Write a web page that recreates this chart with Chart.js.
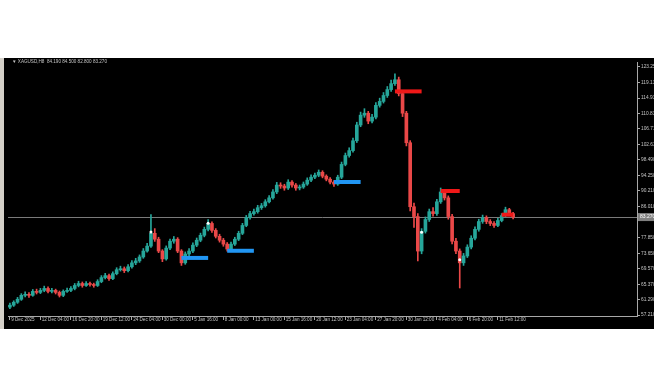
<!DOCTYPE html>
<html>
<head>
<meta charset="utf-8">
<script src="https://cdn.jsdelivr.net/npm/chart.js@4.4.1/dist/chart.umd.min.js"></script>
<style>
  html, body { margin: 0; padding: 0; background: #fff; }
  body { width: 654px; height: 366px; position: relative; overflow: hidden; }
  #strip { position: absolute; left: 0; top: 58px; width: 4px; height: 271px; background: #d4d0c8; }
  #frame { position: absolute; left: 4px; top: 58px; width: 650px; height: 271px; background: #000; }
</style>
</head>
<body>
<div id="strip"></div>
<div id="frame"><canvas id="chart" width="650" height="271"></canvas></div>
<script>
const symbolTitle = '\u25BC XAGUSD,H8  84.190 84.500 82.800 83.270';

const dateLabels = ['9 Dec 2025', '12 Dec 04:00', '16 Dec 20:00', '19 Dec 12:00', '24 Dec 04:00', '30 Dec 00:00',
    '5 Jan 16:00', '8 Jan 00:00', '13 Jan 00:00', '15 Jan 16:00', '20 Jan 12:00', '23 Jan 04:00',
    '27 Jan 20:00', '30 Jan 12:00', '4 Feb 04:00', '6 Feb 20:00', '11 Feb 12:00'];

const priceTicks = [123.250, 119.130, 114.930, 110.830, 106.710, 102.630, 98.490, 94.250,
    90.210, 86.010, 77.850, 73.650, 69.570, 65.370, 61.290, 57.210];

const opens = [
    59.30, 59.83, 60.61, 61.40, 62.45, 62.71, 62.45, 63.50, 63.23, 63.76,
    64.28, 63.50, 63.76, 63.23, 62.45, 63.50, 63.76, 64.28, 65.07, 65.59,
    65.07, 65.59, 65.33, 65.07, 66.11, 67.16, 67.69, 66.90, 68.21, 69.26,
    69.52, 69.00, 70.04, 71.09, 71.61, 72.66, 74.23, 75.54, 78.95, 77.38,
    74.23, 72.14, 75.02, 76.85, 77.38, 74.23, 71.09, 73.45, 74.23, 75.80,
    77.11, 78.42, 80.00, 81.57, 79.73, 78.16, 77.11, 76.07, 74.76, 76.07,
    77.38, 78.95, 81.04, 83.14, 84.19, 84.71, 85.76, 86.28, 87.33, 88.38,
    89.95, 91.78, 91.52, 91.00, 92.57, 91.78, 91.00, 91.26, 92.04, 93.09,
    93.88, 94.40, 95.19, 94.14, 93.35, 92.57, 92.04, 93.88, 97.28, 99.64,
    100.95, 103.57, 107.76, 110.38, 110.90, 108.80, 109.85, 112.99, 114.04, 115.61,
    117.18, 118.76, 119.80, 116.14, 110.90, 103.04, 86.02, 83.40, 74.23, 79.47,
    82.62, 84.71, 84.19, 87.33, 89.95, 88.38, 83.40, 76.85, 74.23, 71.09,
    72.92, 75.28, 77.64, 80.00, 82.09, 83.14, 82.09, 81.57, 81.04, 82.35,
    83.66, 85.23, 84.19
];
const highs = [
    60.40, 61.00, 61.90, 62.90, 63.40, 63.20, 64.00, 64.10, 64.30, 64.90,
    64.70, 64.30, 64.10, 63.60, 63.90, 64.40, 64.80, 65.60, 66.20, 66.00,
    66.10, 66.00, 65.70, 66.60, 67.70, 68.30, 68.10, 68.70, 69.80, 70.20,
    70.00, 70.60, 71.70, 72.30, 73.20, 74.90, 76.30, 83.90, 80.20, 77.90,
    74.60, 75.60, 77.40, 78.10, 77.80, 74.60, 74.00, 74.90, 76.40, 77.70,
    79.00, 80.60, 82.60, 82.00, 80.20, 78.70, 77.60, 76.50, 76.60, 77.90,
    79.50, 81.60, 83.70, 84.80, 85.40, 86.40, 86.90, 87.90, 89.00, 90.60,
    92.50, 92.40, 92.00, 93.20, 93.00, 92.20, 91.80, 92.60, 93.70, 94.50,
    95.00, 95.80, 95.60, 94.50, 93.80, 93.00, 94.40, 97.90, 100.30, 101.70,
    104.30, 108.50, 111.20, 112.10, 111.40, 110.60, 113.70, 114.90, 116.40, 118.00,
    119.70, 121.40, 120.50, 116.60, 111.40, 103.60, 87.00, 84.20, 80.20, 83.30,
    85.40, 85.80, 88.00, 91.00, 90.50, 88.90, 84.00, 77.60, 74.80, 73.60,
    75.90, 78.30, 80.70, 82.70, 83.80, 83.60, 82.60, 82.10, 82.90, 84.20,
    85.90, 85.60, 84.50
];
const lows = [
    58.90, 59.50, 60.30, 61.10, 62.00, 61.90, 62.20, 62.80, 62.90, 63.40,
    63.10, 63.10, 62.80, 62.00, 62.10, 63.20, 63.40, 63.90, 64.70, 64.60,
    64.80, 64.90, 64.60, 64.80, 65.80, 66.80, 66.40, 66.60, 67.90, 68.90,
    68.50, 68.70, 69.70, 70.60, 71.20, 72.30, 73.90, 75.20, 76.80, 73.80,
    71.40, 71.80, 74.60, 76.30, 73.80, 70.40, 70.70, 72.90, 73.80, 75.40,
    76.70, 78.00, 79.60, 79.20, 77.70, 76.60, 75.50, 74.20, 74.40, 75.70,
    77.00, 78.60, 80.70, 82.70, 83.80, 84.30, 85.30, 85.90, 87.00, 88.00,
    89.50, 90.90, 90.40, 90.60, 91.20, 90.40, 90.50, 90.90, 91.70, 92.70,
    93.50, 94.00, 93.70, 92.90, 92.10, 91.40, 91.70, 93.50, 96.90, 99.20,
    100.50, 103.10, 107.30, 109.80, 108.10, 108.30, 109.40, 112.50, 113.60, 115.10,
    116.70, 118.30, 115.50, 110.00, 102.20, 84.90, 80.50, 71.60, 73.50, 79.00,
    82.10, 83.50, 83.70, 86.90, 87.80, 82.70, 76.10, 73.50, 64.40, 70.40,
    72.50, 74.80, 77.20, 79.50, 81.60, 81.50, 81.00, 80.50, 80.70, 82.00,
    83.30, 83.70, 82.80
];
const closes = [
    59.83, 60.61, 61.40, 62.45, 62.71, 62.45, 63.50, 63.23, 63.76, 64.28,
    63.50, 63.76, 63.23, 62.45, 63.50, 63.76, 64.28, 65.07, 65.59, 65.07,
    65.59, 65.33, 65.07, 66.11, 67.16, 67.69, 66.90, 68.21, 69.26, 69.52,
    69.00, 70.04, 71.09, 71.61, 72.66, 74.23, 75.54, 78.95, 77.38, 74.23,
    72.14, 75.02, 76.85, 77.38, 74.23, 71.09, 73.45, 74.23, 75.80, 77.11,
    78.42, 80.00, 81.57, 79.73, 78.16, 77.11, 76.07, 74.76, 76.07, 77.38,
    78.95, 81.04, 83.14, 84.19, 84.71, 85.76, 86.28, 87.33, 88.38, 89.95,
    91.78, 91.52, 91.00, 92.57, 91.78, 91.00, 91.26, 92.04, 93.09, 93.88,
    94.40, 95.19, 94.14, 93.35, 92.57, 92.04, 93.88, 97.28, 99.64, 100.95,
    103.57, 107.76, 110.38, 110.90, 108.80, 109.85, 112.99, 114.04, 115.61, 117.18,
    118.76, 119.80, 116.14, 110.90, 103.04, 86.02, 83.40, 74.23, 79.47, 82.62,
    84.71, 84.19, 87.33, 89.95, 88.38, 83.40, 76.85, 74.23, 71.09, 72.92,
    75.28, 77.64, 80.00, 82.09, 83.14, 82.09, 81.57, 81.04, 82.35, 83.66,
    85.23, 84.19, 83.27
];

// zones: [first slot, last slot, price]
const blueZones = [[45, 52, 72.4], [57, 64, 74.3], [85, 92, 92.6]];
const redZones = [[101, 108, 116.7], [113, 118, 90.2], [129, 132, 83.9]];
const dotSlots = [37, 52, 108, 118];
const dotPrices = [79.3, 81.6, 79.2, 71.9];

const slotCount = 165;
const labelEvery = 8;
const upColor = '#26a69a';
const downColor = '#ea4848';
const axisColor = '#a8a8a8';
const textColor = '#c4c4c4';
const fontFamily = "'Liberation Sans', Arial, sans-serif";

const candleColors = closes.map((c, i) => c >= opens[i] ? upColor : downColor);
const lastClose = closes[closes.length - 1];

function zoneDataset(z, color) {
    return {
        type: 'line',
        data: [{ x: z[0], y: z[2] }, { x: z[1], y: z[2] }],
        borderColor: color,
        borderWidth: 4,
        borderCapStyle: 'butt',
        pointRadius: 0,
        order: 1
    };
}

const overlay = {
    id: 'overlay',
    beforeDatasetsDraw(chart) {
        const { ctx, chartArea, scales } = chart;
        const y = Math.round(scales.y.getPixelForValue(lastClose)) + 0.5;
        ctx.save();
        ctx.strokeStyle = '#7a7a7a';
        ctx.lineWidth = 1;
        ctx.beginPath();
        ctx.moveTo(chartArea.left, y);
        ctx.lineTo(chartArea.right, y);
        ctx.stroke();
        ctx.restore();
    },
    afterDraw(chart) {
        const { ctx, chartArea, scales } = chart;
        const y = scales.y.getPixelForValue(lastClose);
        ctx.save();
        ctx.fillStyle = '#808080';
        ctx.fillRect(chartArea.right + 1, y - 4, 20, 8);
        ctx.fillStyle = '#ffffff';
        ctx.font = '5px ' + fontFamily;
        ctx.textBaseline = 'middle';
        ctx.fillText(lastClose.toFixed(3), chartArea.right + 3, y);
        ctx.fillStyle = textColor;
        ctx.font = '4.6px ' + fontFamily;
        ctx.textBaseline = 'top';
        ctx.fillText(symbolTitle, chartArea.left + 4, 1);
        ctx.restore();
    }
};

new Chart(document.getElementById('chart'), {
    type: 'bar',
    data: {
        labels: Array.from({ length: slotCount }, (_, i) => i),
        datasets: [
            {
                data: lows.map((l, i) => [l, highs[i]]),
                backgroundColor: candleColors,
                barThickness: 1,
                grouped: false,
                order: 3
            },
            {
                data: opens.map((o, i) => [o, closes[i]]),
                backgroundColor: candleColors,
                barThickness: 3,
                minBarLength: 1,
                grouped: false,
                order: 2
            },
            ...blueZones.map(z => zoneDataset(z, '#2196f3')),
            ...redZones.map(z => zoneDataset(z, '#f01818')),
            {
                type: 'line',
                data: dotSlots.map((s, i) => ({ x: s, y: dotPrices[i] })),
                showLine: false,
                pointRadius: 1.5,
                pointBorderWidth: 0,
                pointBackgroundColor: '#ffffff',
                order: 0
            }
        ]
    },
    options: {
        responsive: false,
        animation: false,
        layout: { padding: { left: 1, top: 0, right: 0, bottom: 0 } },
        plugins: {
            legend: { display: false },
            tooltip: { enabled: false }
        },
        scales: {
            x: {
                offset: true,
                grid: { display: true, drawOnChartArea: false, tickLength: 4, color: axisColor, offset: false },
                border: { display: true, color: axisColor },
                ticks: {
                    autoSkip: false,
                    maxRotation: 0,
                    minRotation: 0,
                    align: 'start',
                    padding: -3,
                    color: textColor,
                    font: { family: fontFamily, size: 4.6 },
                    callback: (v) => ' ' + dateLabels[v / labelEvery]
                },
                afterBuildTicks: (s) => {
                    s.ticks = s.ticks.filter(t => t.value % labelEvery === 0 && t.value / labelEvery < dateLabels.length);
                },
                afterFit: (s) => { s.height = 13; s.paddingLeft = 0; s.paddingRight = 0; }
            },
            y: {
                position: 'right',
                min: 56.95,
                max: 124.52,
                grid: { display: true, drawOnChartArea: false, tickLength: 3, color: axisColor },
                border: { display: true, color: axisColor },
                ticks: {
                    padding: 1,
                    color: textColor,
                    font: { family: fontFamily, size: 4.8 },
                    callback: (v) => v.toFixed(3)
                },
                afterBuildTicks: (s) => { s.ticks = priceTicks.map(v => ({ value: v })); },
                afterFit: (s) => { s.width = 17; s.paddingTop = 0; s.paddingBottom = 0; }
            }
        }
    },
    plugins: [overlay]
});
</script>
</body>
</html>
